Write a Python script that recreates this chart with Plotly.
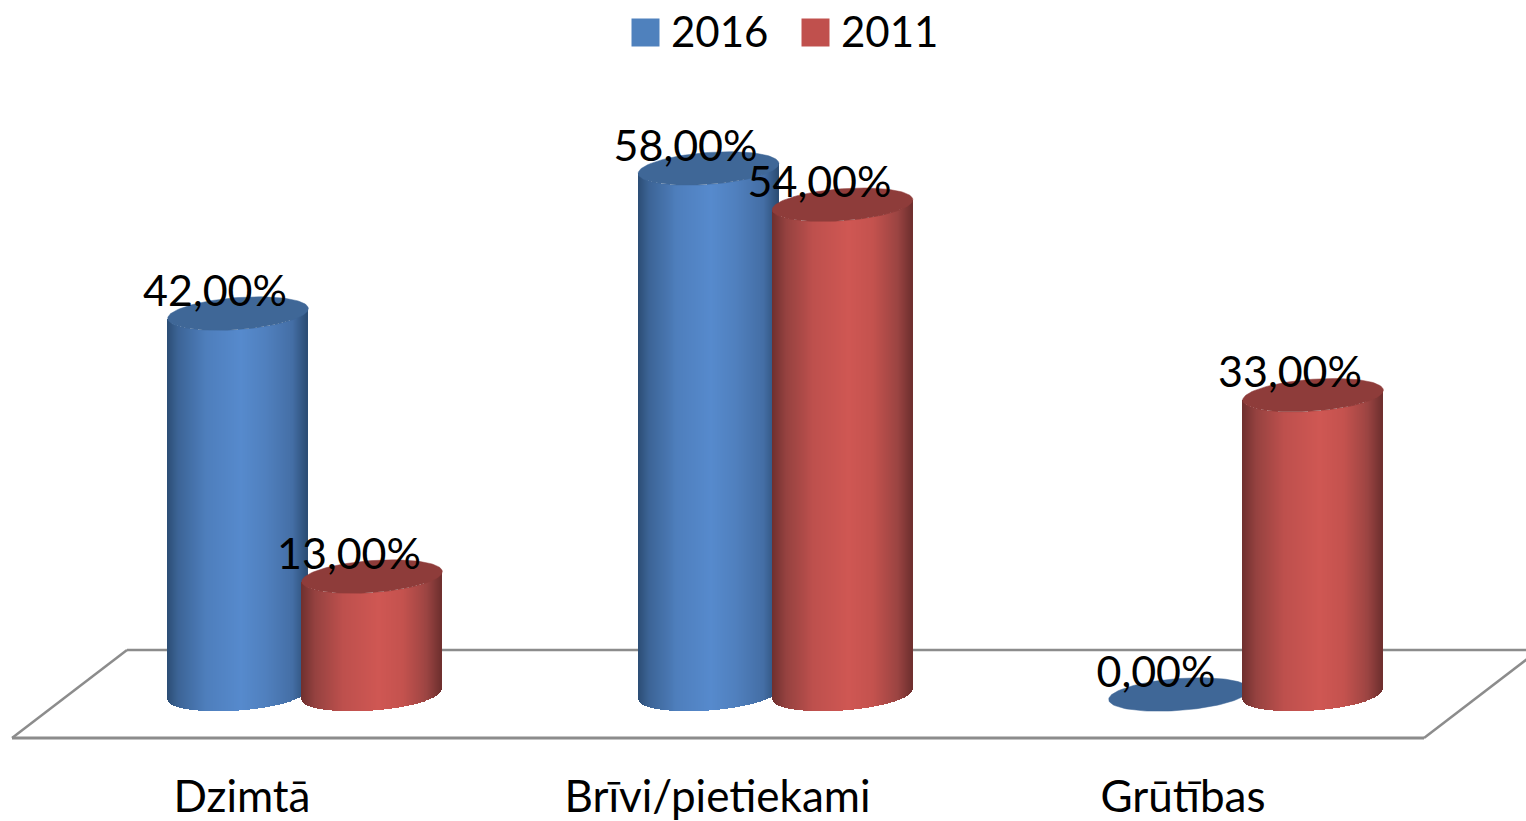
import numpy as np
import plotly.graph_objects as go

categories = ["Dzimtā", "Brīvi/pietiekami", "Grūtības"]
series_names = ["2016", "2011"]
values_2016 = [42.0, 58.0, 0.0]
values_2011 = [13.0, 54.0, 33.0]

W, H = 1526, 821
PLOT_BOTTOM = 767
PX_PER_PCT = 9.07
ZERO_PX = 694.5
GROUP_PX = 470.5
GROUP0_PX = 305.0
BAR_OFFSET_PX = 67.0
RADIUS_X = 70.3
RADIUS_Y = 16.0
TILT = 5.0
LABEL_DX = -23.0
LABEL_DY = 18.5
TICK_DX = [-63.0, -58.0, -63.0]


def ux(px):
    return (px - GROUP0_PX) / GROUP_PX


def uy(px):
    return (ZERO_PX - px) / PX_PER_PCT


def lerp_colors(stops, u):
    pos = [s[0] for s in stops]
    rgb = [np.interp(u, pos, [s[1][c] for s in stops]) for c in range(3)]
    return "rgb(%d,%d,%d)" % tuple(int(round(v)) for v in rgb)


BLUE_STOPS = [(-1, (44, 78, 118)), (-0.85, (60, 100, 150)), (-0.45, (78, 126, 188)),
              (0.05, (86, 138, 205)), (0.4, (80, 128, 190)), (0.8, (68, 110, 165)), (1, (44, 78, 118))]
RED_STOPS = [(-1, (112, 48, 47)), (-0.8, (150, 66, 64)), (-0.4, (190, 80, 77)),
             (0.1, (207, 87, 83)), (0.45, (196, 82, 78)), (0.8, (155, 68, 66)), (1, (112, 48, 47))]

STYLES = [
    dict(side=BLUE_STOPS, top="#3F6797", swatch="#4F81BD", axes=("x", "y"), off=-BAR_OFFSET_PX,
         sw=645.5, tx=671),
    dict(side=RED_STOPS, top="#8E3C3A", swatch="#C0504D", axes=("x2", "y2"), off=BAR_OFFSET_PX,
         sw=815.5, tx=841),
]

fig = go.Figure()
series_values = [values_2016, values_2011]
u_vals = np.linspace(-1, 1, 141)
ts = np.linspace(0, 2 * np.pi, 121)

for name, values, st in zip(series_names, series_values, STYLES):
    xa, ya = st["axes"]
    for i, v in enumerate(values):
        cx = ux(GROUP0_PX + i * GROUP_PX + st["off"])
        offsets = RADIUS_Y * np.sqrt(np.clip(1 - u_vals ** 2, 0, 1)) - TILT * u_vals
        if v > 0:
            fig.add_trace(go.Bar(
                x=cx + u_vals * (RADIUS_X - 0.7) / GROUP_PX,
                y=[v] * len(u_vals),
                base=-offsets / PX_PER_PCT,
                width=1.4 / GROUP_PX,
                marker=dict(color=[lerp_colors(st["side"], u) for u in u_vals], line=dict(width=0)),
                xaxis=xa, yaxis=ya, showlegend=False, hoverinfo="skip",
            ))
        fig.add_trace(go.Scatter(
            x=cx + np.cos(ts) * RADIUS_X / GROUP_PX,
            y=v + (TILT * np.cos(ts) - RADIUS_Y * np.sin(ts)) / PX_PER_PCT,
            mode="lines", fill="toself", fillcolor=st["top"],
            line=dict(color=st["top"], width=0.5),
            xaxis=xa, yaxis=ya, showlegend=False, hoverinfo="skip",
        ))

# data labels, above every cylinder
for name, values, st in zip(series_names, series_values, STYLES):
    fig.add_trace(go.Scatter(
        x=[ux(GROUP0_PX + i * GROUP_PX + st["off"] + LABEL_DX) for i in range(len(values))],
        y=[v + LABEL_DY / PX_PER_PCT for v in values],
        text=[f"{v:.2f}%".replace(".", ",") for v in values],
        mode="text", textposition="middle center",
        textfont=dict(family="Lato", size=43, color="#000000"),
        xaxis="x2", yaxis="y2", showlegend=False, hoverinfo="skip", cliponaxis=False,
    ))

# legend
for name, st in zip(series_names, STYLES):
    fig.add_trace(go.Scatter(
        x=[ux(st["sw"])], y=[uy(32.5)], mode="markers",
        marker=dict(symbol="square", size=28, color=st["swatch"], line=dict(width=0)),
        xaxis="x2", yaxis="y2", showlegend=False, hoverinfo="skip",
    ))
    fig.add_trace(go.Scatter(
        x=[ux(st["tx"])], y=[uy(36.5)], mode="text", text=[name], textposition="middle right",
        textfont=dict(family="Lato", size=42, color="#000000"),
        xaxis="x2", yaxis="y2", showlegend=False, hoverinfo="skip", cliponaxis=False,
    ))

# chart floor
floor_color = "#8C8C8C"
floor = [((12, 738), (1424, 738), 3), ((12, 738), (127, 650), 2.5), ((127, 650), (1526, 650), 2.5),
         ((1424, 738), (1539, 650), 2.5)]
for (x0, y0), (x1, y1), w in floor:
    fig.add_shape(type="line", xref="x", yref="y", x0=ux(x0), y0=uy(y0), x1=ux(x1), y1=uy(y1),
                  line=dict(color=floor_color, width=w), layer="below")

x_range = [ux(0), ux(W)]
y_range = [uy(PLOT_BOTTOM), uy(0)]
fig.update_layout(
    width=W, height=H, autosize=False,
    margin=dict(l=0, r=0, t=0, b=H - PLOT_BOTTOM, pad=0),
    paper_bgcolor="#FFFFFF", plot_bgcolor="#FFFFFF",
    barmode="overlay", bargap=0, showlegend=False,
    xaxis=dict(range=x_range, showgrid=False, zeroline=False, showline=False,
               tickmode="array", automargin=False,
               tickvals=[i + TICK_DX[i] / GROUP_PX for i in range(len(categories))],
               ticktext=categories, ticks="", ticklen=0,
               tickfont=dict(family="Lato", size=44, color="#000000"), fixedrange=True),
    yaxis=dict(range=y_range, visible=False, fixedrange=True, automargin=False),
    xaxis2=dict(range=x_range, overlaying="x", visible=False, fixedrange=True, automargin=False),
    yaxis2=dict(range=y_range, overlaying="y", visible=False, fixedrange=True, automargin=False),
)

fig.write_html("out.html", config={"displayModeBar": False},
               post_script="document.body.style.margin='0';document.body.style.overflow='hidden';")
